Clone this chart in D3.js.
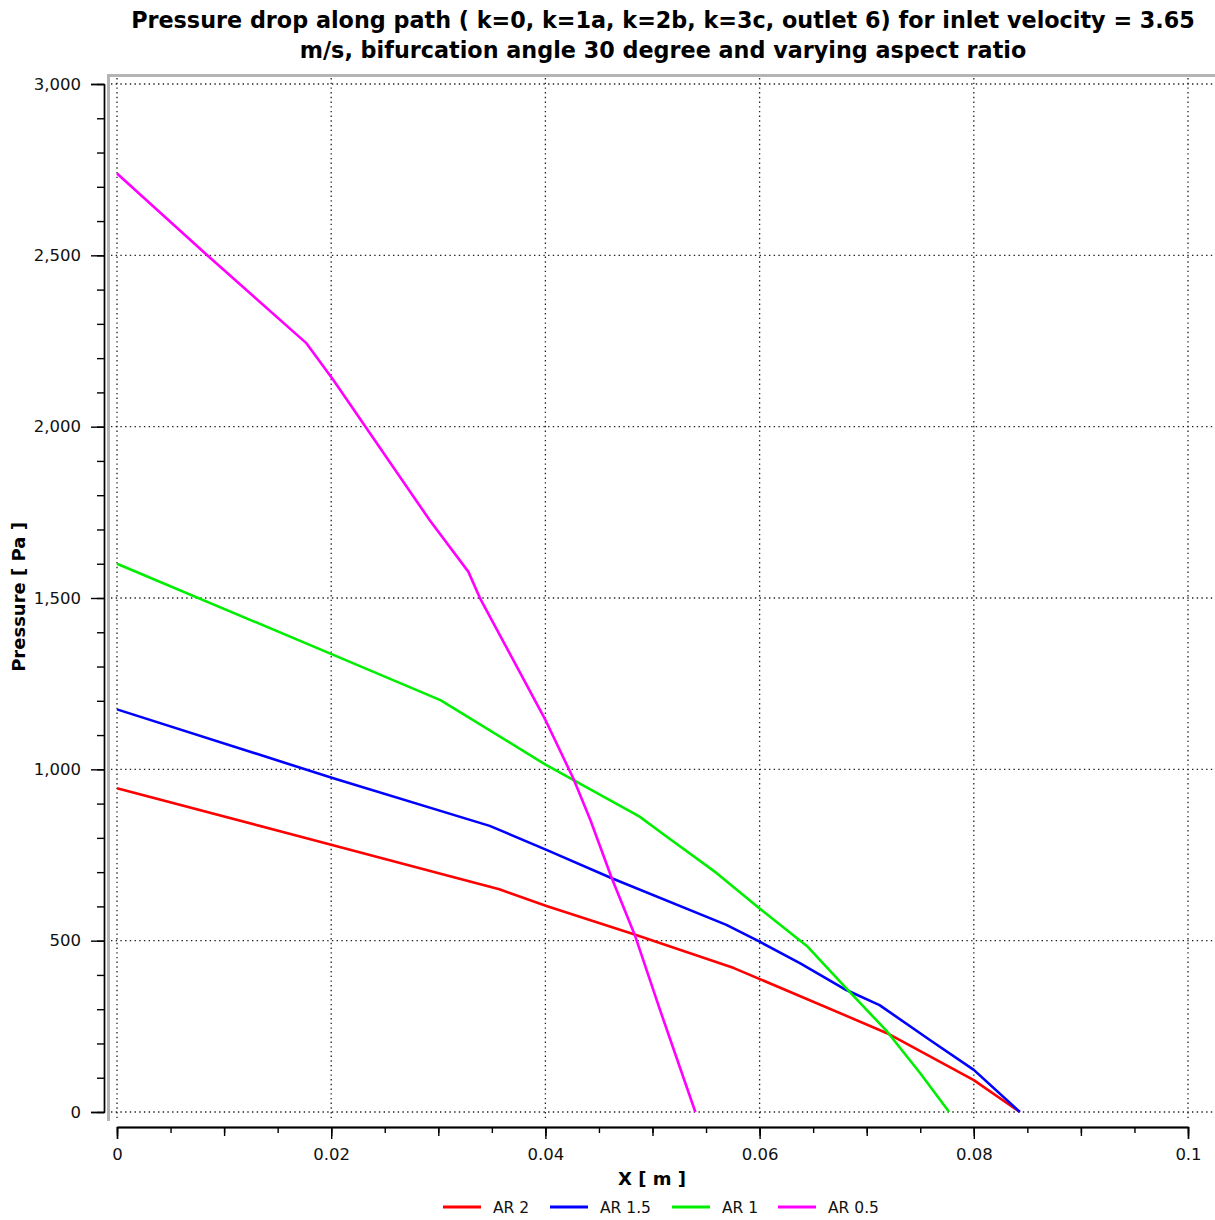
<!DOCTYPE html>
<html lang="en">
<head>
<meta charset="UTF-8">
<title>Pressure drop along path</title>
<script src="https://cdn.jsdelivr.net/npm/d3@7"></script>
<style>
    body {
        margin: 0;
        background: #fff;
    }
    svg {
        display: block;
        font-family: "DejaVu Sans", Verdana, sans-serif;
    }
    .grid line {
        stroke: #222;
        stroke-width: 1.3;
        stroke-dasharray: 1.4 3.3;
    }
    .axis path, .axis line {
        stroke: #000;
        stroke-width: 1.4;
    }
    .axis text {
        font-family: "DejaVu Sans", Verdana, sans-serif;
        font-size: 16.5px;
        fill: #111;
    }
    .series {
        fill: none;
        stroke-width: 2.6;
        stroke-linejoin: round;
    }
</style>
</head>
<body>
<svg id="chart" width="1215" height="1220"></svg>
<script>
// chart text
const titleLines = [
    "Pressure drop along path ( k=0, k=1a, k=2b, k=3c, outlet 6) for inlet velocity = 3.65",
    "m/s, bifurcation angle 30 degree and varying aspect ratio"
];
const xTitle = "X [ m ]";
const yTitle = "Pressure [ Pa ]";

// ticks
const xTicks = [0, 0.02, 0.04, 0.06, 0.08, 0.1];
const xTickLabels = ["0", "0.02", "0.04", "0.06", "0.08", "0.1"];
const yTicks = [0, 500, 1000, 1500, 2000, 2500, 3000];
const yTickLabels = ["0", "500", "1,000", "1,500", "2,000", "2,500", "3,000"];

// series (x in m, pressure in Pa)
const seriesNames = ["AR 2", "AR 1.5", "AR 1", "AR 0.5"];
const seriesColors = ["#ff0000", "#0000ff", "#00ee00", "#ff00ff"];
const ar2 = [[0, 945], [0.0177, 799], [0.0311, 688], [0.0357, 650], [0.0401, 601], [0.0484, 517],
    [0.0576, 420], [0.0638, 338], [0.0719, 230], [0.0800, 93], [0.0843, 0]];
const ar15 = [[0, 1175], [0.0202, 974], [0.0348, 835], [0.0401, 765], [0.0462, 682], [0.0569, 546],
    [0.0600, 497], [0.0638, 434], [0.0681, 356], [0.0712, 312], [0.0759, 210], [0.0800, 123], [0.0843, 0]];
const ar1 = [[0, 1600], [0.0202, 1334], [0.0302, 1202], [0.0401, 1012], [0.0488, 862], [0.0507, 818],
    [0.0560, 697], [0.0600, 594], [0.0645, 482], [0.0681, 361], [0.0719, 235], [0.0750, 113], [0.0777, 0]];
const ar05 = [[0, 2739], [0.0084, 2501], [0.0177, 2243], [0.0202, 2136], [0.0292, 1727], [0.0328, 1577],
    [0.0339, 1499], [0.0400, 1144], [0.0426, 974], [0.0442, 852], [0.0462, 682], [0.0484, 512],
    [0.0507, 298], [0.0540, 0]];
const seriesData = [ar2, ar15, ar1, ar05];

const svg = d3.select("#chart");

const x = d3.scaleLinear().domain([0, 0.1]).range([117, 1188]);
const y = d3.scaleLinear().domain([0, 3000]).range([1112, 84]);

// title, shrunk to the width of the original first line
const title = svg.append("g")
    .attr("font-weight", "bold")
    .attr("text-anchor", "middle")
    .attr("fill", "#000");
const titleText = title.selectAll("text")
    .data(titleLines)
    .enter().append("text")
    .attr("x", 663)
    .attr("y", (d, i) => 28 + i * 30)
    .attr("font-size", 20)
    .text(d => d);
const w0 = titleText.node().getComputedTextLength();
titleText.attr("font-size", 20 * 1064 / w0);

// grey frame of the plot area
svg.append("line").attr("x1", 108.5).attr("x2", 108.5).attr("y1", 74).attr("y2", 1121)
    .attr("stroke", "#b4b4b4").attr("stroke-width", 3);
svg.append("line").attr("x1", 107).attr("x2", 1215).attr("y1", 75.5).attr("y2", 75.5)
    .attr("stroke", "#b4b4b4").attr("stroke-width", 3);

// dotted grid
const grid = svg.append("g").attr("class", "grid");
grid.selectAll(".v")
    .data(xTicks)
    .enter().append("line")
    .attr("x1", d => x(d)).attr("x2", d => x(d))
    .attr("y1", 78).attr("y2", 1119);
grid.selectAll(".h")
    .data(yTicks)
    .enter().append("line")
    .attr("x1", 111).attr("x2", 1215)
    .attr("y1", d => y(d)).attr("y2", d => y(d));

// y axis
svg.append("g")
    .attr("class", "axis")
    .attr("transform", "translate(104,0)")
    .call(d3.axisLeft(y).ticks(30).tickSize(7).tickSizeOuter(0).tickFormat(""));
svg.append("g")
    .attr("class", "axis")
    .attr("transform", "translate(104,0)")
    .call(d3.axisLeft(y).tickValues(yTicks).tickSize(13).tickPadding(10)
        .tickFormat((d, i) => yTickLabels[i]));

// x axis
const xAxisY = 1127;
svg.append("g")
    .attr("class", "axis")
    .attr("transform", `translate(0,${xAxisY})`)
    .call(d3.axisBottom(x).ticks(20).tickSize(6).tickSizeOuter(0).tickFormat(""));
svg.append("g")
    .attr("class", "axis")
    .attr("transform", `translate(0,${xAxisY})`)
    .call(d3.axisBottom(x).ticks(10).tickSize(9).tickSizeOuter(0).tickFormat(""));
svg.append("g")
    .attr("class", "axis")
    .attr("transform", `translate(0,${xAxisY})`)
    .call(d3.axisBottom(x).tickValues(xTicks).tickSize(12).tickPadding(9)
        .tickFormat((d, i) => xTickLabels[i]));

// axis titles
svg.append("text")
    .attr("x", 652)
    .attr("y", 1185)
    .attr("text-anchor", "middle")
    .attr("font-weight", "bold")
    .attr("font-size", 18)
    .text(xTitle);
svg.append("text")
    .attr("transform", "translate(25,597) rotate(-90)")
    .attr("text-anchor", "middle")
    .attr("font-weight", "bold")
    .attr("font-size", 18)
    .text(yTitle);

// lines
const line = d3.line()
    .x(d => x(d[0]))
    .y(d => y(d[1]));

svg.selectAll(".series")
    .data(seriesData)
    .enter().append("path")
    .attr("class", "series")
    .attr("stroke", (d, i) => seriesColors[i])
    .attr("d", line);

// legend
const legendX = [443, 550, 672, 778];
const legend = svg.selectAll(".legend")
    .data(seriesNames)
    .enter().append("g")
    .attr("class", "legend")
    .attr("transform", (d, i) => `translate(${legendX[i]},1207)`);
legend.append("line")
    .attr("x1", 0).attr("x2", 38)
    .attr("stroke", (d, i) => seriesColors[i])
    .attr("stroke-width", 3);
legend.append("text")
    .attr("x", 50)
    .attr("y", 6)
    .attr("font-size", 15.5)
    .attr("fill", "#111")
    .text(d => d);
</script>
</body>
</html>
